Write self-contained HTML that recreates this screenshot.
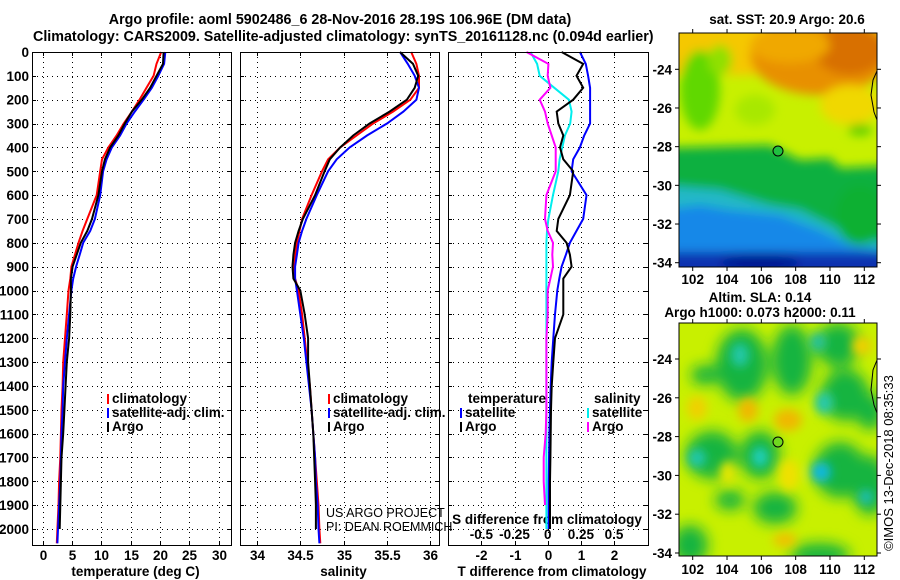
<!DOCTYPE html>
<html><head><meta charset="utf-8"><style>
body{margin:0;background:#fff;}
svg{display:block;font-family:"Liberation Sans",sans-serif;}
.t{font-weight:bold;font-size:14.3px;}
.l{font-weight:bold;font-size:13.5px;}
</style></head><body>
<svg id="c" width="900" height="580" viewBox="0 0 900 580">
<defs>
<filter id="bl" x="-20%" y="-20%" width="140%" height="140%"><feGaussianBlur stdDeviation="5"/></filter>
<filter id="bl2" x="-20%" y="-20%" width="140%" height="140%"><feGaussianBlur stdDeviation="7"/></filter>
<clipPath id="cm1"><rect x="679" y="33" width="198" height="234"/></clipPath>
<clipPath id="cm2"><rect x="679" y="323" width="198" height="233"/></clipPath>
</defs>
<text class="t" x="340" y="24" text-anchor="middle">Argo profile: aoml 5902486_6 28-Nov-2016 28.19S 106.96E (DM data)</text>
<text class="t" x="33" y="41">Climatology: CARS2009. Satellite-adjusted climatology: synTS_20161128.nc (0.094d earlier)</text>
<g id="g"></g>
<!-- top map -->
<g clip-path="url(#cm1)">
<rect x="679" y="33" width="198" height="234" fill="#c8f000"/>
<g filter="url(#bl)">
<rect x="660" y="20" width="240" height="55" fill="#f5c800"/>
<ellipse cx="820" cy="55" rx="70" ry="40" fill="#e89000"/>
<ellipse cx="850" cy="50" rx="35" ry="25" fill="#d87000"/>
<ellipse cx="790" cy="45" rx="40" ry="18" fill="#f0a800"/>
<ellipse cx="700" cy="90" rx="20" ry="40" fill="#60d800"/>
<ellipse cx="720" cy="60" rx="12" ry="15" fill="#90e000"/>
<ellipse cx="755" cy="110" rx="20" ry="15" fill="#a8e800"/>
<ellipse cx="860" cy="130" rx="12" ry="6" fill="#60d000"/>
<ellipse cx="850" cy="105" rx="30" ry="20" fill="#f0d800"/>
<polygon points="660,148 770,145 800,160 830,158 840,168 900,165 900,300 660,300" fill="#10b040"/>
<polygon points="660,185 720,190 770,205 800,210 840,230 870,240 900,245 900,300 660,300" fill="#20b8c8"/>
<polygon points="660,210 700,205 730,210 780,215 820,230 850,245 880,250 900,255 900,300 660,300" fill="#1888e8"/>
<ellipse cx="860" cy="215" rx="25" ry="30" fill="#10b030"/>
<rect x="660" y="252" width="240" height="30" fill="#0830b0"/>
<ellipse cx="760" cy="262" rx="40" ry="8" fill="#001890"/>
</g>
<path d="M877,71 L873,80 L871,95 L874,112 L877,120" fill="none" stroke="#000" stroke-width="1"/>
</g>
<rect x="679" y="33" width="198" height="234" fill="none" stroke="#000"/>
<circle cx="778" cy="151" r="5" fill="#20c040" stroke="#000"/>
<text class="l" x="787" y="24" text-anchor="middle">sat. SST: 20.9 Argo: 20.6</text>
<!-- bottom map -->
<g clip-path="url(#cm2)">
<rect x="679" y="323" width="198" height="233" fill="#c8f000"/>
<g filter="url(#bl2)" fill="#12b440">
<ellipse cx="742" cy="365" rx="26" ry="36"/>
<ellipse cx="792" cy="360" rx="20" ry="35"/>
<ellipse cx="838" cy="345" rx="22" ry="22"/>
<ellipse cx="845" cy="395" rx="24" ry="26"/>
<ellipse cx="712" cy="455" rx="26" ry="24"/>
<ellipse cx="760" cy="455" rx="20" ry="24"/>
<ellipse cx="840" cy="470" rx="26" ry="28"/>
<ellipse cx="870" cy="485" rx="18" ry="30"/>
<ellipse cx="775" cy="508" rx="22" ry="16"/>
<ellipse cx="690" cy="545" rx="18" ry="20"/>
<ellipse cx="820" cy="555" rx="30" ry="12"/>
<ellipse cx="705" cy="375" rx="14" ry="10"/>
<ellipse cx="870" cy="412" rx="14" ry="18"/>
<ellipse cx="730" cy="500" rx="15" ry="10"/>
</g>
<g filter="url(#bl)">
<ellipse cx="740" cy="355" rx="9" ry="12" fill="#20c8a8"/>
<ellipse cx="818" cy="342" rx="8" ry="9" fill="#20c0a0"/>
<ellipse cx="824" cy="403" rx="9" ry="11" fill="#20c8b0"/>
<ellipse cx="697" cy="458" rx="9" ry="9" fill="#20c8b0"/>
<ellipse cx="760" cy="457" rx="8" ry="10" fill="#20d0c0"/>
<ellipse cx="821" cy="472" rx="10" ry="10" fill="#10b8e0"/>
<ellipse cx="866" cy="497" rx="7" ry="7" fill="#20c0c0"/>
<ellipse cx="748" cy="410" rx="10" ry="12" fill="#f0b800"/>
<ellipse cx="788" cy="420" rx="14" ry="11" fill="#f0b800"/>
<ellipse cx="697" cy="408" rx="10" ry="12" fill="#f0d000"/>
<ellipse cx="785" cy="540" rx="12" ry="7" fill="#f0c000"/>
<ellipse cx="862" cy="346" rx="10" ry="10" fill="#f0d000"/>
<ellipse cx="789" cy="475" rx="10" ry="16" fill="#f0e000"/>
<ellipse cx="728" cy="473" rx="8" ry="12" fill="#e8e800"/>
</g>
<path d="M877,360 L873,370 L871,390 L874,405 L877,413" fill="none" stroke="#000" stroke-width="1"/>
</g>
<rect x="679" y="323" width="198" height="233" fill="none" stroke="#000"/>
<circle cx="778" cy="442" r="5" fill="#70d820" stroke="#000"/>
<text class="l" x="760" y="302" text-anchor="middle">Altim. SLA: 0.14</text>
<text class="l" x="760" y="317" text-anchor="middle">Argo h1000: 0.073 h2000: 0.11</text>
<text x="893" y="463" font-size="13" text-anchor="middle" transform="rotate(-90 893 463)">©IMOS 13-Dec-2018 08:35:33</text>
</svg>
<script>
const depths=[0,50,100,150,200,250,300,350,400,450,500,600,700,750,800,850,900,950,1000,1100,1200,1300,1400,1500,1600,1700,1800,1900,2000,2060];
const tempClim=[20.2,19.4,18.9,17.7,16.5,15.2,13.8,12.6,11.2,10.1,9.8,9.2,7.6,6.8,6.1,5.5,4.9,4.7,4.4,4.1,3.8,3.5,3.4,3.2,3.1,3.0,2.8,2.7,2.5,2.4];
const tempSat=[20.9,20.7,19.7,18.6,17.2,15.7,14.3,13.2,11.8,10.9,10.3,9.8,8.9,8.1,6.9,6.3,5.7,5.2,4.9,4.5,4.1,3.8,3.5,3.4,3.2,3.1,3.0,2.8,2.6,2.5];
const tempArgo=[20.6,20.5,19.4,18.3,16.9,15.2,14.0,12.9,11.5,10.6,10.1,9.5,8.4,7.6,6.5,5.8,5.1,4.8,4.8,4.7,4.5,4.1,3.9,3.7,3.5,3.2,3.1,3.0,2.9,null];
const salClim=[35.78,35.84,35.87,35.87,35.77,35.57,35.34,35.15,34.96,34.82,34.75,34.63,34.52,34.49,34.46,34.44,34.43,34.44,34.48,34.52,34.55,34.58,34.61,34.63,34.65,34.67,34.69,34.71,34.72,34.73];
const salSat=[35.65,35.74,35.82,35.87,35.84,35.69,35.50,35.27,35.07,34.92,34.82,34.69,34.57,34.52,34.48,34.46,34.44,34.44,34.46,34.50,34.54,34.57,34.60,34.63,34.65,34.67,34.68,34.70,34.71,34.72];
const salArgo=[35.65,35.80,35.86,35.82,35.73,35.53,35.30,35.11,34.96,34.84,34.78,34.67,34.53,34.48,34.44,34.42,34.41,34.42,34.50,34.55,34.59,34.59,34.61,34.63,34.65,34.66,34.67,34.68,34.68,null];
const tDiffSat=[0.97,1.15,1.22,1.28,1.28,1.28,1.28,1.1,0.97,0.77,0.72,1.17,1.07,0.87,0.67,0.55,0.42,0.35,0.29,0.22,0.17,0.12,0.09,0.07,0.05,0.04,0.03,0.03,0.03,null];
const tDiffArgo=[0.42,1.07,0.87,1.07,0.77,0.27,0.32,0.47,0.37,0.47,0.77,0.67,0.32,0.27,0.57,0.67,0.72,0.47,0.47,0.47,0.22,0.17,0.12,0.1,0.09,0.08,0.07,0.07,0.07,null];
const sDiffSat=[-0.13,-0.08,-0.06,0.05,0.16,0.18,0.17,0.13,0.11,0.09,0.08,0.04,0.005,-0.005,-0.01,-0.01,-0.01,-0.01,-0.01,-0.01,-0.01,-0.01,-0.01,-0.01,-0.01,-0.01,-0.01,-0.01,-0.01,null];
const sDiffArgo=[-0.16,0.005,0.0,0.02,-0.06,-0.02,0.0,0.03,0.06,0.06,0.06,-0.01,-0.02,0.0,0.04,0.035,0.04,0.02,0.0,0.0,-0.01,-0.01,-0.01,-0.01,-0.015,-0.03,-0.03,-0.02,null,null];
const depthTicks=[0,100,200,300,400,500,600,700,800,900,1000,1100,1200,1300,1400,1500,1600,1700,1800,1900,2000];
const tempTicks=[0,5,10,15,20,25,30];
const salTicks=[34,34.5,35,35.5,36];
const tdTicks=[-2,-1,0,1,2];
const sdTicks=[-0.5,-0.25,0,0.25,0.5];
const lonTicks=[102,104,106,108,110,112];
const latTicks=[-24,-26,-28,-30,-32,-34];

const NS='http://www.w3.org/2000/svg';
const g=document.getElementById('g');
function mk(t,a,p){const e=document.createElementNS(NS,t);for(const k in a)e.setAttribute(k,a[k]);(p||g).appendChild(e);return e;}
const Y0=52,Y1=545;
const yD=d=>Y0+d*(529-52)/2000;
const r5=v=>Math.round(v)+0.5;
function lin(d0,d1,r0,r1){return v=>r0+(v-d0)*(r1-r0)/(d1-d0);}
const panels=[
 {x0:32,x1:231,sx:lin(0,30,42.7,218.7),ticks:tempTicks,title:'temperature (deg C)',tname:'temperature'},
 {x0:240,x1:439,sx:lin(34,36,257,430.3),ticks:salTicks,title:'salinity',tname:'salinity'},
 {x0:448,x1:648,sx:lin(0,2,547.7,614),ticks:tdTicks,title:'T difference from climatology',tname:'tdiff'}
];
panels.forEach((p,i)=>{
  const pg=mk('g',{'shape-rendering':'crispEdges'});
  
  
  depthTicks.forEach(d=>{const y=r5(yD(d));
    const l=mk('line',{x1:p.x0,x2:p.x1,y1:y,y2:y,stroke:'#000','stroke-width':1,'stroke-dasharray':'1,4'},pg);
    
    
    mk('line',{x1:p.x0,x2:p.x0+4,y1:y,y2:y,stroke:'#000'},pg);
    mk('line',{x1:p.x1-4,x2:p.x1,y1:y,y2:y,stroke:'#000'},pg);
  });
  p.ticks.forEach(v=>{const x=r5(p.sx(v));
    const l=mk('line',{x1:x,x2:x,y1:Y0,y2:Y1,stroke:'#000','stroke-width':1,'stroke-dasharray':'1,4'},pg);
    
    
    mk('line',{x1:x,x2:x,y1:Y1-4,y2:Y1,stroke:'#000'},pg);
    mk('line',{x1:x,x2:x,y1:Y0,y2:Y0+4,stroke:'#000'},pg);
    const t=mk('text',{x:x,y:560,'text-anchor':'middle',class:'l'},pg);t.textContent=String(v);
    
    
  });
  const tt=mk('text',{x:(p.x0+p.x1)/2+4,y:576,'text-anchor':'middle',class:'l'},pg);tt.textContent=p.title;
  
  
});
depthTicks.forEach(d=>{const t=mk('text',{x:29,y:yD(d)+5,'text-anchor':'end',class:'l'});t.textContent=String(d);
  
  });
// S diff axis
const sx2=lin(0,0.5,547.7,614);
sdTicks.forEach(v=>{const t=mk('text',{x:sx2(v),y:539,'text-anchor':'middle',class:'l'});t.textContent=String(v);
  
  });
const st=mk('text',{x:547,y:524,'text-anchor':'middle',class:'l'});st.textContent='S difference from climatology';


function line(vals,sx,col,name,clip){
  let d='';vals.forEach((v,i)=>{if(v===null||v===undefined)return;d+=(d?'L':'M')+sx(v).toFixed(1)+','+yD(depths[i]).toFixed(1);});
  const e=mk('path',{d:d,fill:'none',stroke:col,'stroke-width':2});
  
  
}
const P=panels;
line(tempClim,P[0].sx,'#f00','temp-climatology-line');
line(tempSat,P[0].sx,'#00f','temp-satellite-line');
line(tempArgo,P[0].sx,'#000','temp-argo-line');
line(salClim,P[1].sx,'#f00','sal-climatology-line');
line(salSat,P[1].sx,'#00f','sal-satellite-line');
line(salArgo,P[1].sx,'#000','sal-argo-line');
line(sDiffSat,sx2,'#0ee','sdiff-satellite-line');
line(sDiffArgo,sx2,'#f0f','sdiff-argo-line');
line(tDiffSat,P[2].sx,'#00f','tdiff-satellite-line');
line(tDiffArgo,P[2].sx,'#000','tdiff-argo-line');
P.forEach(p=>{const r=mk('rect',{x:p.x0+0.5,y:Y0+0.5,width:p.x1-p.x0,height:Y1-Y0,fill:'none',stroke:'#000'});
  
  });
function leg(x,y,col,txt){mk('rect',{x:x,y:y-9,width:2,height:10,fill:col});
  const t=mk('text',{x:x+5,y:y,class:'l'});t.textContent=txt;
  
  }
leg(107,403,'#f00','climatology');leg(107,417,'#00f','satellite-adj. clim.');leg(107,431,'#000','Argo');
leg(328,403,'#f00','climatology');leg(328,417,'#00f','satellite-adj. clim.');leg(328,431,'#000','Argo');
{const t=mk('text',{x:468,y:403,class:'l'});t.textContent='temperature';
 
 }
leg(460,417,'#00f','satellite');leg(460,431,'#000','Argo');
{const t=mk('text',{x:594,y:403,class:'l'});t.textContent='salinity';
 
 }
leg(587,417,'#0ee','satellite');leg(587,431,'#f0f','Argo');
[['US ARGO PROJECT',517],['PI: DEAN ROEMMICH',531]].forEach(a=>{const t=mk('text',{x:326,y:a[1],'font-size':12.5});t.textContent=a[0];
 
 });
// map axes
const lonX=lin(102,112,692.7,864.3);
[[33,267,lin(-24,-34,69.3,262.7),284],[323,556,lin(-24,-34,359,553),574]].forEach(m=>{
  lonTicks.forEach(v=>{const x=lonX(v);
    mk('line',{x1:x,x2:x,y1:m[1],y2:m[1]+4,stroke:'#000'});mk('line',{x1:x,x2:x,y1:m[0]-4,y2:m[0],stroke:'#000'});
    const t=mk('text',{x:x,y:m[3],'text-anchor':'middle',class:'l'});t.textContent=String(v);
    
    });
  latTicks.forEach(v=>{const y=m[2](v);
    mk('line',{x1:675,x2:679,y1:y,y2:y,stroke:'#000'});mk('line',{x1:877,x2:881,y1:y,y2:y,stroke:'#000'});
    const t=mk('text',{x:672,y:y+5,'text-anchor':'end',class:'l'});t.textContent=String(v);
    
    });
});
</script>
</body></html>
